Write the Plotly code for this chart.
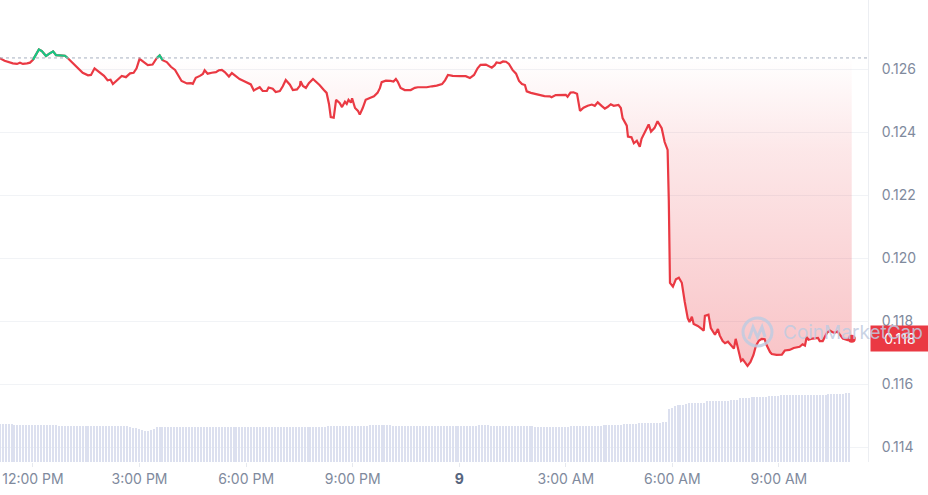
import numpy as np
import pandas as pd
import plotly.graph_objects as go

# 24h price chart
START = "2025-03-08 11:04"
OPEN_PRICE = 0.12636
LAST_LABEL = "0.118"

# minutes since START for each traced price point
price_minutes = [
    0, 8, 22, 29, 34, 39, 46, 51, 56, 61,
    66, 71, 78, 83, 90, 95, 101, 110, 115, 123,
    132, 140, 149, 154, 160, 169, 176, 182, 187, 191,
    198, 206, 213, 220, 226, 231, 236, 243, 250, 258,
    265, 270, 275, 282, 289, 296, 302, 307, 316, 323,
    326, 331, 338, 343, 346, 351, 358, 365, 370, 375,
    380, 387, 392, 399, 405, 412, 419, 424, 429, 436,
    439, 444, 451, 454, 461, 466, 473, 478, 483, 490,
    495, 502, 507, 508, 512, 517, 522, 529, 535, 540,
    547, 552, 556, 559, 564, 568, 574, 578, 583, 586,
    589, 593, 595, 600, 605, 608, 613, 618, 625, 632,
    638, 642, 645, 652, 660, 665, 669, 672, 677, 684,
    694, 701, 706, 713, 721, 730, 738, 747, 752, 757,
    765, 777, 787, 794, 801, 807, 812, 821, 826, 831,
    836, 839, 845, 850, 855, 860, 866, 872, 877, 882,
    887, 890, 897, 904, 912, 920, 929, 932, 939, 949,
    956, 959, 964, 969, 975, 980, 986, 993, 1000, 1005,
    1010, 1017, 1022, 1027, 1032, 1037, 1045, 1049, 1052, 1059,
    1061, 1067, 1071, 1076, 1081, 1084, 1091, 1096, 1100, 1106,
    1111, 1118, 1123, 1128, 1130, 1131, 1132, 1137, 1142, 1147,
    1152, 1157, 1162, 1165, 1169, 1172, 1179, 1186, 1189, 1191,
    1197, 1201, 1208, 1213, 1216, 1221, 1225, 1230, 1235, 1240,
    1243, 1247, 1252, 1255, 1260, 1263, 1268, 1273, 1277, 1282,
    1287, 1292, 1295, 1301, 1304, 1312, 1321, 1326, 1334, 1341,
    1351, 1356, 1360, 1363, 1366, 1373, 1382, 1385, 1390, 1397,
    1402, 1409, 1415, 1419, 1424, 1432, 1439,
]

price = [
    0.12635, 0.12627, 0.12619, 0.12617, 0.12621, 0.12617, 0.12619, 0.12621, 0.12630, 0.12645,
    0.12663, 0.12658, 0.12642, 0.12649, 0.12657, 0.12645, 0.12645, 0.12643, 0.12635, 0.12621,
    0.12605, 0.12589, 0.12581, 0.12582, 0.12603, 0.12591, 0.12579, 0.12565, 0.12567, 0.12553,
    0.12566, 0.12579, 0.12575, 0.12587, 0.12589, 0.12603, 0.12633, 0.12624, 0.12613, 0.12615,
    0.12635, 0.12644, 0.12629, 0.12623, 0.12608, 0.12598, 0.12579, 0.12563, 0.12555, 0.12556,
    0.12554, 0.12573, 0.12579, 0.12585, 0.12597, 0.12586, 0.12589, 0.12591, 0.12597, 0.12598,
    0.12591, 0.12577, 0.12588, 0.12579, 0.12569, 0.12563, 0.12556, 0.12552, 0.12533, 0.12541,
    0.12543, 0.12531, 0.12531, 0.12542, 0.12538, 0.12528, 0.12531, 0.12546, 0.12566, 0.12551,
    0.12534, 0.12536, 0.12548, 0.12562, 0.12547, 0.12541, 0.12556, 0.12569, 0.12560, 0.12550,
    0.12535, 0.12525, 0.12490, 0.12448, 0.12446, 0.12503, 0.12493, 0.12480, 0.12497, 0.12490,
    0.12503, 0.12494, 0.12508, 0.12477, 0.12468, 0.12456, 0.12477, 0.12503, 0.12509, 0.12514,
    0.12525, 0.12540, 0.12559, 0.12564, 0.12563, 0.12561, 0.12569, 0.12561, 0.12541, 0.12534,
    0.12534, 0.12541, 0.12543, 0.12542, 0.12543, 0.12546, 0.12548, 0.12553, 0.12565, 0.12582,
    0.12579, 0.12578, 0.12578, 0.12572, 0.12582, 0.12603, 0.12614, 0.12615, 0.12611, 0.12605,
    0.12613, 0.12622, 0.12620, 0.12625, 0.12624, 0.12617, 0.12598, 0.12586, 0.12563, 0.12553,
    0.12550, 0.12530, 0.12525, 0.12522, 0.12518, 0.12515, 0.12514, 0.12511, 0.12518, 0.12518,
    0.12519, 0.12513, 0.12526, 0.12527, 0.12522, 0.12468, 0.12478, 0.12484, 0.12488, 0.12484,
    0.12495, 0.12483, 0.12475, 0.12481, 0.12489, 0.12484, 0.12487, 0.12477, 0.12445, 0.12421,
    0.12386, 0.12384, 0.12365, 0.12373, 0.12354, 0.12379, 0.12404, 0.12425, 0.12402, 0.12414,
    0.12435, 0.12413, 0.12369, 0.12344, 0.12185, 0.11988, 0.11922, 0.11910, 0.11933, 0.11938,
    0.11922, 0.11861, 0.11810, 0.11797, 0.11814, 0.11791, 0.11785, 0.11775, 0.11770, 0.11817,
    0.11821, 0.11778, 0.11757, 0.11775, 0.11755, 0.11737, 0.11730, 0.11735, 0.11725, 0.11713,
    0.11744, 0.11709, 0.11674, 0.11679, 0.11667, 0.11658, 0.11671, 0.11693, 0.11721, 0.11738,
    0.11744, 0.11743, 0.11725, 0.11702, 0.11696, 0.11693, 0.11694, 0.11707, 0.11709, 0.11715,
    0.11719, 0.11727, 0.11723, 0.11750, 0.11741, 0.11745, 0.11747, 0.11737, 0.11737, 0.11763,
    0.11770, 0.11763, 0.11767, 0.11756, 0.11745, 0.11740, 0.11744,
]

# 5-minute volume bars (one row = one hour)
volume = [
    37.7, 37.7, 37.7, 37.7, 37.7, 37.3, 37.3, 36.7, 36.7, 36.7, 36.7, 36.7,
    36.7, 36.7, 36.7, 36.7, 36.7, 36.7, 36.7, 36.7, 36.3, 36.3, 36.3, 36.3,
    36.3, 36.3, 36.3, 36.3, 36.3, 36.3, 36.3, 36.3, 36.3, 36.3, 36.0, 36.0,
    36.0, 36.0, 36.0, 36.0, 36.0, 36.0, 36.0, 36.0, 35.0, 34.3, 33.7, 33.0,
    32.0, 31.5, 31.0, 31.8, 33.0, 34.7, 34.7, 34.7, 34.7, 34.7, 34.7, 34.7,
    34.7, 34.7, 34.7, 34.7, 34.7, 34.7, 34.7, 34.7, 34.7, 34.7, 34.7, 34.7,
    35.0, 35.0, 35.0, 35.0, 35.0, 35.0, 35.0, 35.0, 35.0, 35.0, 35.0, 35.0,
    35.0, 35.0, 35.0, 35.0, 35.0, 35.0, 35.0, 35.0, 35.0, 35.0, 35.0, 35.0,
    35.0, 35.0, 34.7, 34.7, 34.7, 34.7, 34.7, 34.7, 34.7, 34.7, 34.7, 34.7,
    34.7, 34.7, 34.7, 35.7, 35.7, 35.7, 35.7, 35.7, 35.7, 35.7, 35.7, 35.7,
    35.7, 35.7, 35.7, 35.7, 35.7, 36.7, 36.7, 36.7, 36.7, 36.7, 36.7, 36.7,
    36.7, 35.7, 35.7, 35.7, 35.7, 35.7, 35.7, 35.7, 35.7, 35.7, 35.7, 35.7,
    35.7, 35.7, 35.7, 35.7, 35.7, 35.7, 35.7, 35.7, 35.7, 35.7, 35.7, 35.7,
    35.7, 35.7, 35.7, 35.7, 35.7, 35.7, 36.7, 36.7, 36.7, 36.7, 35.7, 35.7,
    35.7, 35.7, 35.7, 35.7, 35.7, 35.7, 35.7, 35.7, 35.7, 35.7, 35.7, 35.7,
    35.7, 34.7, 34.7, 34.7, 34.7, 34.7, 34.7, 34.7, 34.7, 34.7, 34.7, 34.7,
    34.7, 35.7, 35.7, 35.7, 35.7, 35.7, 35.7, 35.7, 35.7, 35.7, 35.7, 35.7,
    36.7, 36.7, 36.7, 36.7, 36.7, 36.7, 36.7, 37.7, 37.7, 37.7, 37.7, 37.7,
    38.7, 38.7, 38.7, 38.7, 38.7, 38.7, 38.7, 38.7, 39.7, 40.3, 52.7, 54.0,
    56.0, 56.7, 56.7, 56.7, 58.3, 59.3, 59.3, 59.3, 59.3, 59.3, 59.3, 60.7,
    60.7, 60.7, 61.3, 61.3, 61.3, 61.3, 61.3, 62.3, 62.3, 62.3, 63.7, 63.7,
    63.7, 63.7, 64.7, 64.7, 64.7, 64.7, 64.7, 64.7, 65.7, 65.7, 65.7, 65.7,
    66.7, 66.7, 66.7, 66.7, 66.7, 66.7, 66.7, 66.7, 66.7, 66.7, 66.7, 66.7,
    66.7, 66.7, 66.7, 66.7, 67.7, 67.7, 67.7, 67.7, 67.7, 67.7, 68.7, 68.7,
]

tick_times = ["2025-03-08 12:00", "2025-03-08 15:00", "2025-03-08 18:00", "2025-03-08 21:00",
              "2025-03-09 00:00", "2025-03-09 03:00", "2025-03-09 06:00", "2025-03-09 09:00"]
tick_labels = ["12:00 PM", "3:00 PM", "6:00 PM", "9:00 PM",
               "<b><span style='color:#58667e'>9</span></b>", "3:00 AM", "6:00 AM", "9:00 AM"]
y_ticks = [0.114, 0.116, 0.118, 0.120, 0.122, 0.124, 0.126]

RED = "#ea3943"
GREEN = "#16c784"
GREY = "#808a9d"

t0 = pd.Timestamp(START)
price_t = t0 + pd.to_timedelta(price_minutes, unit="m")
vol_t = pd.date_range(t0, periods=len(volume), freq="5min")

p = np.array(price)
below = np.minimum(p, OPEN_PRICE)
up = p > OPEN_PRICE
show_green = up | np.roll(up, 1) | np.roll(up, -1)
green = [v if s else None for v, s in zip(price, show_green)]

fig = go.Figure()

fig.add_trace(go.Bar(
    x=vol_t, y=volume, yaxis="y2",
    marker=dict(color="#dce0ef", line=dict(width=0)),
    width=135000, hoverinfo="skip"
))

# baseline + clipped area for the gradient fill
fig.add_trace(go.Scatter(
    x=price_t, y=[OPEN_PRICE] * len(price), mode="lines",
    line=dict(width=0), hoverinfo="skip"
))
fig.add_trace(go.Scatter(
    x=price_t, y=below, mode="lines", line=dict(width=0),
    fill="tonexty",
    fillgradient=dict(type="vertical", colorscale=[
        [0, "rgba(234,57,67,0.30)"],
        [0.7, "rgba(234,57,67,0.12)"],
        [1, "rgba(234,57,67,0.0)"],
    ]),
    hoverinfo="skip"
))

fig.add_trace(go.Scatter(x=price_t, y=price, mode="lines",
                         line=dict(color=RED, width=2.2), name="Price"))
fig.add_trace(go.Scatter(x=price_t, y=green, mode="lines",
                         line=dict(color=GREEN, width=2.2), connectgaps=False))
fig.add_trace(go.Scatter(x=[price_t[-1]], y=[price[-1]], mode="markers",
                         marker=dict(color=RED, size=8)))

fig.add_shape(type="line", xref="paper", x0=0, x1=1, yref="y",
              y0=OPEN_PRICE, y1=OPEN_PRICE,
              line=dict(color="#a7afbf", width=1, dash="dot"))

# current price tag
fig.add_annotation(xref="paper", x=1, xanchor="left", xshift=2,
                   yref="y", y=price[-1], yanchor="middle",
                   text=LAST_LABEL, showarrow=False, bgcolor=RED,
                   width=56, height=23, borderpad=1,
                   font=dict(color="white", size=14, family="Inter"))


# watermark (pixel -> paper coords of the 868x462 plot area)
def pp(x, y):
    return x / 868, 1 - y / 462


WM = "rgba(192,203,224,0.85)"
cx0, cy0 = pp(743, 346)
cx1, cy1 = pp(772, 318)
fig.add_shape(type="circle", xref="paper", yref="paper",
              x0=cx0, y0=cy0, x1=cx1, y1=cy1, line=dict(color=WM, width=3))
pts = [pp(749, 339), pp(753, 327), pp(757.5, 337), pp(762, 327), pp(765, 337)]
path = "M " + " L ".join(f"{a},{b}" for a, b in pts)
fig.add_shape(type="path", xref="paper", yref="paper", path=path,
              line=dict(color=WM, width=3))
wx, wy = pp(781, 332)
fig.add_annotation(xref="paper", yref="paper", x=wx, y=wy,
                   xanchor="left", yanchor="middle", text="CoinMarketCap",
                   showarrow=False, font=dict(color=WM, size=19, family="Inter"))

fig.update_layout(
    width=928, height=495,
    margin=dict(l=0, r=60, t=0, b=33),
    plot_bgcolor="white", paper_bgcolor="white",
    showlegend=False,
    font=dict(family="Inter", color=GREY, size=14),
    bargap=0,
    xaxis=dict(
        type="date",
        range=["2025-03-08 11:04:18", "2025-03-09 11:30:30"],
        tickvals=tick_times, ticktext=tick_labels,
        showgrid=False, zeroline=False, showline=False,
        ticks="outside", ticklen=4, tickcolor="#e6e9ef",
        ticklabeloverflow="allow",
    ),
    yaxis=dict(
        side="right", range=[0.11353, 0.1282],
        tickvals=y_ticks, tickformat=".3f",
        showgrid=True, gridcolor="#f1f3f6", zeroline=False,
        showline=True, linecolor="#eceef2",
        ticklabelstandoff=10,
    ),
    yaxis2=dict(overlaying="y", range=[0, 462], visible=False),
)

# drop the default 8px page margin so the chart fills the window
fig.write_html("out.html", config={"displayModeBar": False},
               post_script="document.body.style.margin='0';")
